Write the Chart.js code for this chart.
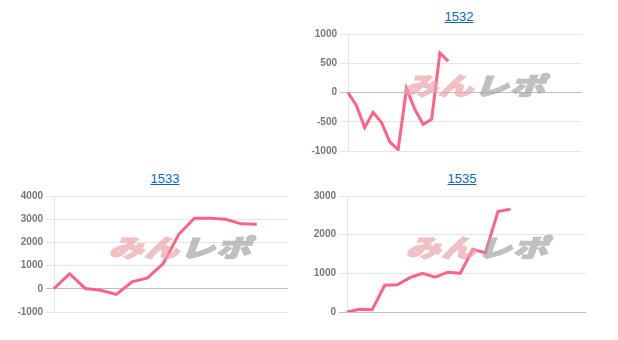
<!DOCTYPE html>
<html>
<head>
<meta charset="utf-8">
<script src="https://cdn.jsdelivr.net/npm/chart.js@4"></script>
<style>
  body { margin: 0; background: #fff; width: 618px; height: 340px; position: relative; overflow: hidden; }
  .box { position: absolute; }
  .ttl { position: absolute; font: 13px 'Liberation Sans', Arial, sans-serif; line-height: 16px; transform: translateX(-50%); }
  .ttl a { color: #0a66c8; text-decoration: underline; }
  .mark { position: absolute; transform: translate(-50%, -50%) scale(1.02, 0.72); white-space: nowrap;
          font-family: 'Noto Sans CJK JP', sans-serif; font-weight: 900; font-style: italic; font-size: 34px;
          line-height: 34px; letter-spacing: 1px; pointer-events: none; opacity: 0.7; }
  .mark .a { color: rgb(232, 165, 172); -webkit-text-stroke: 2px rgb(232, 165, 172); }
  .mark .b { color: rgb(165, 165, 165); -webkit-text-stroke: 2px rgb(165, 165, 165); }
</style>
</head>
<body>

<script>
// x labels (axis hidden) and values per store
const labels1532 = ['1','2','3','4','5','6','7','8','9','10','11','12','13','14','15','16','17','18','19','20','21','22','23','24','25','26','27','28','29'];
const values1532 = [0, -220, -600, -340, -510, -845, -980, 70, -290, -545, -460, 675, 535];
const ticks1532 = [-1000, -500, 0, 500, 1000];

const labels1533 = ['1','2','3','4','5','6','7','8','9','10','11','12','13','14','15','16'];
const values1533 = [10, 650, 15, -60, -240, 300, 470, 1090, 2350, 3040, 3040, 3000, 2800, 2780];
const ticks1533 = [-1000, 0, 1000, 2000, 3000, 4000];

const labels1535 = ['1','2','3','4','5','6','7','8','9','10','11','12','13','14','15','16','17','18','19','20'];
const values1535 = [0, 70, 60, 690, 705, 890, 1000, 900, 1030, 1000, 1620, 1530, 2600, 2660];
const ticks1535 = [0, 1000, 2000, 3000];

const watermarkA = 'みん';
const watermarkB = 'レポ';

Chart.defaults.font.family = "'Liberation Sans', Arial, sans-serif";
Chart.defaults.color = '#666';

// plot area placement for each chart: [left, top, width, height]
const charts = [
    { name: '1532', labels: labels1532, values: values1532, ticks: ticks1532, area: [348, 33, 234, 119], titleX: 459, markX: 474, markY: 85 },
    { name: '1533', labels: labels1533, values: values1533, ticks: ticks1533, area: [54, 195, 234, 118], titleX: 165, markX: 180, markY: 247 },
    { name: '1535', labels: labels1535, values: values1535, ticks: ticks1535, area: [347, 195, 239, 118], titleX: 462, markX: 477, markY: 247 }
];

const axisW = 45;

charts.forEach(function(c) {
    const [left, top, w, h] = c.area;

    const title = document.createElement('div');
    title.className = 'ttl';
    title.style.left = c.titleX + 'px';
    title.style.top = (top - 24) + 'px';
    title.innerHTML = '<a href="#">' + c.name + '</a>';
    document.body.appendChild(title);

    const box = document.createElement('div');
    box.className = 'box';
    box.style.left = (left - axisW) + 'px';
    box.style.top = (top - 8) + 'px';
    const canvas = document.createElement('canvas');
    canvas.width = w + axisW + 1;
    canvas.height = h + 16;
    box.appendChild(canvas);
    document.body.appendChild(box);

    const mark = document.createElement('div');
    mark.className = 'mark';
    mark.style.left = c.markX + 'px';
    mark.style.top = c.markY + 'px';
    mark.innerHTML = '<span class="a">' + watermarkA + '</span><span class="b">' + watermarkB + '</span>';
    document.body.appendChild(mark);

    new Chart(canvas.getContext('2d'), {
        type: 'line',
        data: {
            labels: c.labels,
            datasets: [{
                label: c.name,
                data: c.values,
                borderColor: 'rgb(255, 99, 132)',
                borderWidth: 3,
                pointRadius: 0,
                fill: false,
                tension: 0
            }]
        },
        options: {
            responsive: false,
            animation: false,
            layout: { padding: { top: 8, bottom: 8, right: 1, left: 0 } },
            plugins: {
                legend: { display: false },
                tooltip: { enabled: false }
            },
            scales: {
                x: { display: false },
                y: {
                    min: c.ticks[0],
                    max: c.ticks[c.ticks.length - 1],
                    afterFit: function(scale) { scale.width = axisW; },
                    afterBuildTicks: function(scale) {
                        scale.ticks = c.ticks.map(function(v) { return { value: v }; });
                    },
                    border: { color: 'rgba(0,0,0,0.1)' },
                    grid: {
                        color: function(ctx) {
                            return ctx.tick && ctx.tick.value === 0 ? 'rgba(0,0,0,0.25)' : 'rgba(0,0,0,0.1)';
                        }
                    },
                    ticks: {
                        font: { size: 10, weight: 'bold' },
                        color: '#777',
                        callback: function(value) { return String(value); }
                    }
                }
            }
        }
    });
});
</script>
</body>
</html>
